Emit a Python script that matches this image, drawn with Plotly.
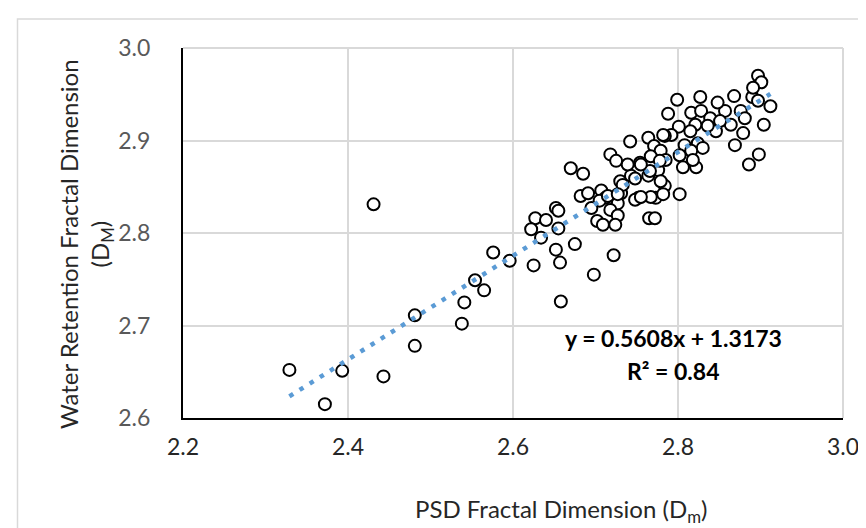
import plotly.graph_objects as go

# PSD fractal dimension (Dm) and water-retention fractal dimension (DM)
psd_dm = [
    2.329, 2.372, 2.393, 2.443, 2.431, 2.481, 2.481, 2.538, 2.541, 2.554,
    2.565, 2.576, 2.596, 2.627, 2.640, 2.622, 2.634, 2.652, 2.655, 2.655,
    2.652, 2.625, 2.657, 2.675, 2.670, 2.685, 2.682, 2.691, 2.707, 2.712,
    2.705, 2.715, 2.730, 2.731, 2.727, 2.743, 2.752, 2.748, 2.764, 2.765,
    2.695, 2.718, 2.727, 2.702, 2.709, 2.724, 2.722, 2.698, 2.658, 2.897,
    2.901, 2.890, 2.912, 2.904, 2.898, 2.886, 2.868, 2.879, 2.869, 2.857,
    2.848, 2.827, 2.799, 2.788, 2.816, 2.828, 2.839, 2.864, 2.846, 2.836,
    2.801, 2.792, 2.821, 2.784, 2.764, 2.742, 2.771, 2.718, 2.779, 2.808,
    2.824, 2.830, 2.816, 2.802, 2.785, 2.767, 2.754, 2.739, 2.725, 2.806,
    2.822, 2.776, 2.766, 2.748, 2.733, 2.727, 2.773, 2.784, 2.779, 2.802,
    2.772, 2.891, 2.897, 2.876, 2.881, 2.782, 2.815, 2.818, 2.778, 2.755,
    2.851, 2.782, 2.767, 2.755,
]
wr_dm = [
    2.652, 2.615, 2.651, 2.645, 2.831, 2.711, 2.678, 2.702, 2.725, 2.749,
    2.738, 2.779, 2.770, 2.816, 2.814, 2.804, 2.795, 2.827, 2.824, 2.805,
    2.782, 2.765, 2.768, 2.788, 2.870, 2.864, 2.840, 2.843, 2.846, 2.838,
    2.835, 2.840, 2.856, 2.843, 2.832, 2.862, 2.838, 2.836, 2.862, 2.816,
    2.827, 2.825, 2.819, 2.813, 2.809, 2.809, 2.776, 2.755, 2.726, 2.970,
    2.963, 2.947, 2.937, 2.917, 2.885, 2.874, 2.948, 2.908, 2.895, 2.932,
    2.941, 2.947, 2.944, 2.929, 2.930, 2.932, 2.924, 2.917, 2.910, 2.916,
    2.915, 2.906, 2.917, 2.905, 2.903, 2.899, 2.894, 2.885, 2.889, 2.895,
    2.897, 2.892, 2.889, 2.884, 2.879, 2.883, 2.876, 2.874, 2.878, 2.871,
    2.871, 2.868, 2.867, 2.859, 2.852, 2.842, 2.838, 2.851, 2.856, 2.842,
    2.816, 2.957, 2.943, 2.932, 2.924, 2.906, 2.910, 2.879, 2.878, 2.874,
    2.921, 2.842, 2.839, 2.839,
]

# Linear trendline as reported on the chart
slope = 0.5608
intercept = 1.3173
r_squared = 0.84

x_ticks = [2.2, 2.4, 2.6, 2.8, 3.0]
y_ticks = [2.6, 2.7, 2.8, 2.9, 3.0]

FONT = "Lato"

trend_x = [min(psd_dm), max(psd_dm)]
trend_y = [slope * v + intercept for v in trend_x]

fig = go.Figure()
fig.add_trace(go.Scatter(
    x=psd_dm, y=wr_dm, mode="markers",
    marker=dict(size=12, color="white", line=dict(color="black", width=2)),
    showlegend=False, hoverinfo="x+y",
))
fig.add_trace(go.Scatter(
    x=trend_x, y=trend_y, mode="lines",
    line=dict(color="#5B9BD5", width=4.5, dash="4.5px,7.5px"),
    showlegend=False, hoverinfo="skip",
))

fig.update_layout(
    width=866, height=528,
    margin=dict(l=175, r=31, t=40, b=118),
    paper_bgcolor="white", plot_bgcolor="white",
    font=dict(family=FONT, size=23, color="#595959"),
    xaxis=dict(
        range=[2.2, 3.0], tickvals=x_ticks, ticktext=[f"{v:.1f}" for v in x_ticks],
        showgrid=True, gridcolor="#D9D9D9", gridwidth=2,
        showline=True, linecolor="black", linewidth=2, mirror=False,
        zeroline=False, ticks="", ticklen=0, ticklabelstandoff=7,
        tickfont=dict(family=FONT, size=23, color="#262626"),
    ),
    yaxis=dict(
        range=[2.6, 3.0], tickvals=y_ticks, ticktext=[f"{v:.1f}" for v in y_ticks],
        showgrid=True, gridcolor="#D9D9D9", gridwidth=2,
        showline=True, linecolor="black", linewidth=2, mirror=False,
        zeroline=False, ticks="", ticklen=0, ticklabelstandoff=26,
        tickfont=dict(family=FONT, size=23, color="#595959"),
    ),
    shapes=[
        # outer chart border
        dict(type="rect", xref="paper", yref="paper",
             x0=(9.5 - 175) / 660, x1=(875 - 175) / 660,
             y0=(410 - 545) / 370, y1=(410 - 11) / 370,
             line=dict(color="#D9D9D9", width=1.5), fillcolor="rgba(0,0,0,0)",
             layer="below"),
        # top / right plot border (gridlines at 3.0)
        dict(type="line", xref="paper", yref="paper", x0=0, x1=1, y0=1, y1=1,
             line=dict(color="#D9D9D9", width=2), layer="below"),
        dict(type="line", xref="paper", yref="paper", x0=1, x1=1, y0=0, y1=1,
             line=dict(color="#D9D9D9", width=2), layer="below"),
    ],
    annotations=[
        dict(text="PSD Fractal Dimension (D<sub>m</sub>)", xref="paper", yref="paper",
             x=(553 - 175) / 660, y=(410 - 502) / 370, showarrow=False,
             xanchor="center", yanchor="middle",
             font=dict(family=FONT, size=24, color="#262626")),
        dict(text="Water Retention Fractal Dimension<br>(D<sub>M</sub>)",
             xref="paper", yref="paper", textangle=-90,
             x=(78 - 175) / 660, y=(410 - 236) / 370, showarrow=False,
             xanchor="center", yanchor="middle",
             font=dict(family=FONT, size=24, color="#262626")),
        dict(text=f"<b>y = {slope:.4f}x + {intercept:.4f}</b>", xref="paper", yref="paper",
             x=(665 - 175) / 660, y=(410 - 330) / 370, showarrow=False,
             xanchor="center", yanchor="middle",
             font=dict(family=FONT, size=23, color="black")),
        dict(text=f"<b>R² = {r_squared:.2f}</b>", xref="paper", yref="paper",
             x=(665 - 175) / 660, y=(410 - 363) / 370, showarrow=False,
             xanchor="center", yanchor="middle",
             font=dict(family=FONT, size=23, color="black")),
    ],
)

fig.write_html("out.html")
